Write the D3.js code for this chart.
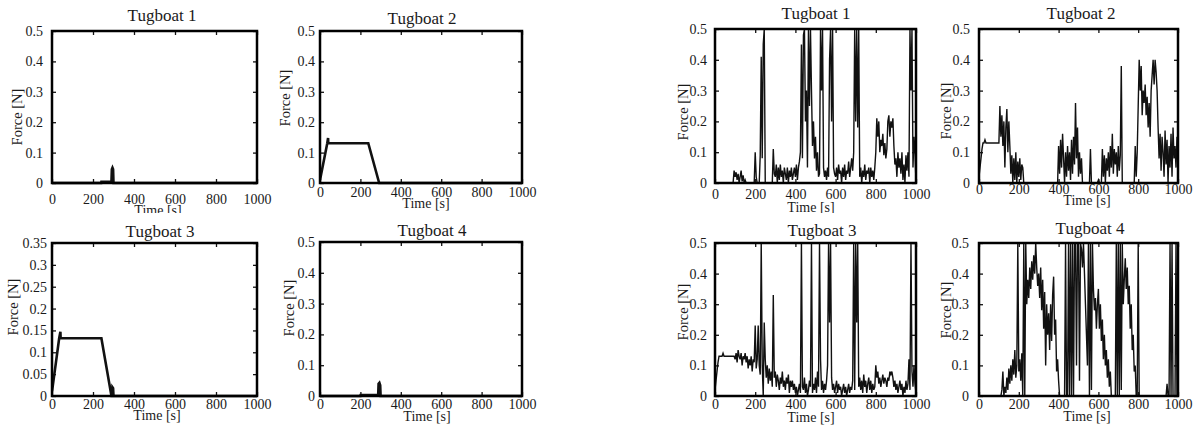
<!DOCTYPE html>
<html>
<head>
<meta charset="utf-8">
<script src="https://cdn.jsdelivr.net/npm/d3@7"></script>
<style>
	body { margin: 0; background: #fff; }
	svg { display: block; }
</style>
</head>
<body>
<svg id="chart" width="1200" height="434"></svg>
<script>
// ---- data ----
const titles = ['Tugboat 1', 'Tugboat 2', 'Tugboat 3', 'Tugboat 4']
const timeTicks = [0, 200, 400, 600, 800, 1000]
const forceTicks = [0, 0.1, 0.2, 0.3, 0.4, 0.5]
const forceTicksFine = [0, 0.05, 0.1, 0.15, 0.2, 0.25, 0.3, 0.35]

// left group: [time s, force N]
const leftTug1 = [[0,0],[240,0],[241,0.004],[290,0.004],[292,0.045],[295,0.05],[298,0.045],[300,0],[1000,0]]
const leftTug2 = [[0,0.01],[36,0.131],[40,0.148],[41,0.131],[239,0.131],[293,0],[1000,0]]
const leftTug3 = [[0,0.01],[35,0.132],[41,0.147],[42,0.132],[241,0.132],[290,0],[294,0],[295,0.02],[298,0.018],[300,0],[1000,0]]
const leftTug4 = [[0,0],[200,0],[201,0.003],[288,0.003],[290,0.04],[294,0.043],[298,0.035],[300,0],[1000,0]]

// right group: force sampled every 5 s, 0..1000 s
const timeGrid = d3.range(0, 1001, 5)
const rightTug1 = [
	0,0,0,0,0,0,0,0,0,0,0,0,0,0,0,0,0,0,0,0.04,
	0.02,0.035,0.01,0.03,0,0.02,0.04,0.005,0.025,0,0.01,0,0,0,0,0,0,0,0,0,
	0.1,0.02,0,0,0,0.09,0.41,0.08,0.45,0.5,0,0,0,0,0,0,0,0,0.11,0.03,
	0.02,0.06,0,0.05,0.01,0.06,0.02,0.04,0,0.05,0.03,0.01,0.05,0,0.04,0.02,0.05,0.01,0.03,0.05,
	0.02,0.06,0.01,0.05,0.07,0.1,0.45,0.08,0.48,0.5,0.2,0.3,0.05,0.5,0.25,0.5,0.3,0.12,0.2,0.08,
	0.15,0.04,0.1,0.02,0.03,0.5,0.3,0.5,0.05,0.02,0.04,0.01,0.05,0.02,0.4,0.5,0.2,0.5,0.05,0.03,
	0.02,0.05,0.01,0.06,0.03,0.04,0,0.05,0.02,0.06,0.01,0.04,0.03,0.07,0.02,0.05,0.08,0.04,0.1,0.5,
	0.2,0.5,0.18,0.5,0.02,0.05,0,0.04,0.02,0.06,0.01,0.04,0.03,0.05,0,0.05,0.02,0.04,0.01,0.05,
	0.1,0.21,0.15,0.2,0.1,0.14,0.12,0.16,0.09,0.13,0.08,0.11,0.2,0.22,0.15,0.2,0.18,0.21,0.12,0.06,
	0.08,0.02,0.1,0.05,0.08,0.03,0.1,0.01,0.06,0,0.09,0.04,0.1,0.02,0.5,0.3,0.5,0.05,0.15,0.1,
	0
]
const rightTug2 = [
	0.02,0.05,0.08,0.11,0.13,0.13,0.14,0.13,0.13,0.13,0.13,0.13,0.13,0.13,0.13,0.13,0.13,0.13,0.13,0.13,
	0.13,0.25,0.15,0.22,0.12,0.2,0.05,0.18,0.24,0.1,0.2,0.12,0.03,0.09,0,0.08,0.01,0.1,0,0.07,
	0.02,0.08,0.01,0.06,0.05,0,0,0,0,0,0,0,0,0,0,0,0,0,0,0,
	0,0,0,0,0,0,0,0,0,0,0,0,0,0,0,0,0,0,0,0,
	0.12,0.03,0.14,0.05,0.16,0.08,0,0.1,0.02,0.12,0.04,0.1,0.01,0.14,0.03,0.15,0.06,0.26,0.08,0.18,
	0.02,0.1,0.03,0.08,0,0,0,0,0,0,0,0,0.11,0,0,0,0,0,0,0,
	0.01,0,0,0,0.11,0.02,0.09,0,0.08,0.04,0.1,0.02,0.12,0.05,0.16,0.03,0.11,0.06,0.1,0.02,
	0.12,0.04,0.09,0.38,0,0,0,0,0,0,0,0,0,0,0,0,0,0.12,0.02,0.1,
	0.25,0.4,0.3,0.38,0.22,0.3,0.26,0.32,0.22,0.28,0.18,0.26,0.15,0.3,0.35,0.4,0.32,0.4,0.36,0.3,
	0.18,0.08,0.16,0.04,0.15,0.1,0.02,0.17,0.06,0.14,0,0.12,0.05,0.16,0.02,0.18,0.08,0.12,0.05,0.15,
	0.1
]
const rightTug3 = [
	0.02,0.05,0.08,0.11,0.13,0.13,0.13,0.13,0.14,0.13,0.13,0.13,0.13,0.13,0.13,0.13,0.13,0.13,0.13,0.13,
	0.12,0.14,0.11,0.15,0.13,0.12,0.14,0.1,0.13,0.12,0.14,0.11,0.13,0.09,0.12,0.1,0.13,0.08,0.12,0.11,
	0.23,0.09,0.12,0.23,0.1,0.07,0.5,0.1,0,0.24,0.12,0.06,0.1,0.04,0.09,0.05,0.08,0.03,0.33,0.06,
	0.08,0.03,0.07,0.05,0.02,0.06,0.04,0.08,0.03,0.05,0.02,0.06,0.04,0.07,0.01,0.05,0.03,0.05,0.02,0.04,
	0.01,0.03,0,0.02,0.04,0.01,0.5,0.03,0.02,0.06,0.01,0.04,0,0.02,0.05,0.03,0.5,0.01,0.04,0.02,
	0.06,0.01,0.08,0.03,0.5,0.12,0.02,0.05,0.01,0.04,0.02,0.05,0.1,0.5,0.24,0.5,0.06,0.02,0.04,0.01,
	0.03,0.05,0.01,0.04,0.02,0.03,0,0.02,0.04,0.01,0.03,0,0.02,0.04,0.01,0.03,0.02,0.05,0.5,0.02,
	0.5,0.24,0.5,0.03,0.06,0.02,0.05,0.01,0.07,0.03,0.05,0.01,0.04,0.06,0.02,0.05,0.01,0.04,0.02,0.03,
	0.1,0.06,0.08,0.04,0.06,0.03,0.05,0.07,0.04,0.06,0.05,0.03,0.06,0.05,0.08,0.07,0.08,0.06,0.03,0.05,
	0.02,0.04,0.01,0.03,0.05,0.02,0.04,0,0.03,0.01,0.05,0.02,0.04,0.12,0.02,0.5,0.08,0.03,0.1,0.04,
	0.01
]
const rightTug4 = [
	0,0,0,0,0,0,0,0,0,0,0,0,0,0,0,0,0,0,0,0,
	0,0,0,0.02,0.08,0,0.03,0.01,0.06,0.02,0.09,0.04,0.1,0.05,0.12,0.07,0.15,0.06,0.1,0.5,
	0.08,0.12,0.05,0.14,0,0.5,0,0.5,0.3,0.38,0.32,0.42,0.35,0.44,0.38,0.46,0.4,0.5,0.42,0.36,
	0.4,0.32,0.42,0.28,0.38,0.22,0.34,0.1,0.3,0.2,0.27,0.15,0.3,0.18,0.33,0.39,0.2,0.25,0.08,0.12,
	0.05,0,0,0,0,0,0,0.5,0,0,0.5,0,0.5,0,0.5,0,0.5,0.5,0.1,0.5,
	0.5,0.05,0.5,0.48,0.42,0.5,0.4,0.3,0.2,0.1,0.5,0,0.5,0.02,0.5,0.35,0.28,0.32,0.22,0.3,
	0.35,0.22,0.3,0.18,0.25,0.12,0.2,0.1,0.15,0.06,0.12,0.03,0.08,0,0,0,0,0,0.5,0,
	0.5,0,0.5,0.02,0.5,0.3,0.38,0.45,0.35,0.42,0.3,0.36,0.22,0.3,0.15,0.2,0.08,0.1,0,0,
	0.5,0,0,0,0,0,0,0,0,0,0,0,0,0,0,0,0,0,0,0,
	0,0,0,0,0,0,0,0,0,0.04,0,0,0.5,0,0.5,0,0,0,0.5,0,
	0
]

const toPairs = vals => vals.map((v, i) => [timeGrid[i], v])

// ---- layout (one entry per subplot) ----
const panels = [
	{series: leftTug1, title: titles[0], yTicks: forceTicks, ymax: 0.5, x0: 52, x1: 257, y0: 31, y1: 183, tX: 162, tY: 21, tickBase: 204, labX: 158, labY: 215, yPad: 9, ylX: 17, ylY: 117, lw: 2.6, top: true},
	{series: leftTug2, title: titles[1], yTicks: forceTicks, ymax: 0.5, x0: 320, x1: 522, y0: 31, y1: 183, tX: 422, tY: 24, tickBase: 197, labX: 426, labY: 208, yPad: 5, ylX: 285, ylY: 98, lw: 2.6, top: true},
	{series: leftTug3, title: titles[2], yTicks: forceTicksFine, ymax: 0.35, x0: 52, x1: 257, y0: 243, y1: 396, tX: 160, tY: 237, tickBase: 409, labX: 157, labY: 420, yPad: 5, ylX: 13, ylY: 307, lw: 2.6},
	{series: leftTug4, title: titles[3], yTicks: forceTicks, ymax: 0.5, x0: 320, x1: 522, y0: 242, y1: 396, tX: 432, tY: 236, tickBase: 409, labX: 427, labY: 421, yPad: 5, ylX: 289, ylY: 308, lw: 2.6},
	{series: toPairs(rightTug1), title: titles[0], yTicks: forceTicks, ymax: 0.5, x0: 715, x1: 916, y0: 29, y1: 183, tX: 816, tY: 19, tickBase: 199, labX: 811, labY: 212, yPad: 8, ylX: 683, ylY: 112, lw: 1.4, top: true},
	{series: toPairs(rightTug2), title: titles[1], yTicks: forceTicks, ymax: 0.5, x0: 979, x1: 1178, y0: 29, y1: 183, tX: 1081, tY: 19, tickBase: 194, labX: 1087, labY: 205, yPad: 9, ylX: 946, ylY: 111, lw: 1.4, top: true},
	{series: toPairs(rightTug3), title: titles[2], yTicks: forceTicks, ymax: 0.5, x0: 715, x1: 916, y0: 243, y1: 396, tX: 822, tY: 236, tickBase: 409, labX: 811, labY: 422, yPad: 8, ylX: 683, ylY: 312, lw: 1.4},
	{series: toPairs(rightTug4), title: titles[3], yTicks: forceTicks, ymax: 0.5, x0: 979, x1: 1178, y0: 243, y1: 396, tX: 1090, tY: 234, tickBase: 409, labX: 1087, labY: 421, yPad: 10, ylX: 946, ylY: 310, lw: 1.4}
]

const serif = '"Liberation Serif", Tinos, "Times New Roman", Times, serif'
const ink = '#1a1a1a'

const svg = d3.select('#chart')
	.style('font-family', serif)
const defs = svg.append('defs')

defs.append('clipPath').attr('id', 'topRowClip')
	.append('rect').attr('x', 0).attr('y', 0).attr('width', 1200).attr('height', 213)

const fmt = d => d === 0 ? '0' : d3.format('~g')(d)

const cleanAxis = a => {
	a.attr('font-family', null).attr('font-size', null)
	a.select('.domain').remove()
	a.selectAll('text')
		.style('font-family', serif)
		.style('font-size', '14px')
		.attr('fill', ink)
}

panels.forEach((p, k) => {
	const xScale = d3.scaleLinear().domain([0, 1000]).range([p.x0, p.x1])
	const yScale = d3.scaleLinear().domain([0, p.ymax]).range([p.y1, p.y0])

	const g = svg.append('g')

	defs.append('clipPath').attr('id', 'plot' + k)
		.append('rect')
		.attr('x', p.x0).attr('y', p.y0 - 2)
		.attr('width', p.x1 - p.x0).attr('height', p.y1 - p.y0 + 4)

	// bottom axis with labels
	const xb = g.append('g')
		.attr('transform', `translate(0, ${p.y1})`)
		.call(d3.axisBottom(xScale).tickValues(timeTicks).tickSizeInner(-4).tickSizeOuter(0).tickFormat(d3.format('d')))
	cleanAxis(xb)
	xb.selectAll('text').attr('y', p.tickBase - p.y1).attr('dy', 0)

	// top axis, ticks only
	const xt = g.append('g')
		.attr('transform', `translate(0, ${p.y0})`)
		.call(d3.axisTop(xScale).tickValues(timeTicks).tickSizeInner(-4).tickSizeOuter(0).tickFormat(''))
	cleanAxis(xt)

	// left axis with labels
	const yl = g.append('g')
		.attr('transform', `translate(${p.x0}, 0)`)
		.call(d3.axisLeft(yScale).tickValues(p.yTicks).tickSizeInner(-4).tickSizeOuter(0).tickFormat(fmt))
	cleanAxis(yl)
	yl.selectAll('text').attr('x', -p.yPad)

	// right axis, ticks only
	const yr = g.append('g')
		.attr('transform', `translate(${p.x1}, 0)`)
		.call(d3.axisRight(yScale).tickValues(p.yTicks).tickSizeInner(-4).tickSizeOuter(0).tickFormat(''))
	cleanAxis(yr)

	g.selectAll('.tick line').attr('stroke', '#111').attr('stroke-width', 1.3)

	// data
	const line = d3.line()
		.x(d => xScale(d[0]))
		.y(d => yScale(d[1]))

	g.append('path')
		.datum(p.series)
		.attr('clip-path', `url(#plot${k})`)
		.attr('d', line)
		.attr('fill', 'none')
		.attr('stroke', '#111')
		.attr('stroke-width', p.lw)
		.attr('stroke-linejoin', 'miter')

	// frame
	g.append('rect')
		.attr('x', p.x0).attr('y', p.y0)
		.attr('width', p.x1 - p.x0).attr('height', p.y1 - p.y0)
		.attr('fill', 'none')
		.attr('stroke', '#000')
		.attr('stroke-width', 2.5)

	// title
	g.append('text')
		.attr('x', p.tX).attr('y', p.tY)
		.attr('text-anchor', 'middle')
		.style('font-family', serif)
		.style('font-size', '17px')
		.attr('fill', ink)
		.text(p.title)

	// x label
	const xl = g.append('text')
		.attr('x', p.labX).attr('y', p.labY)
		.attr('text-anchor', 'middle')
		.style('font-family', serif)
		.style('font-size', '14px')
		.attr('fill', ink)
		.text('Time [s]')
	if (p.top) xl.attr('clip-path', 'url(#topRowClip)')

	// y label
	g.append('text')
		.attr('transform', `translate(${p.ylX}, ${p.ylY}) rotate(-90)`)
		.attr('dy', '0.35em')
		.attr('text-anchor', 'middle')
		.style('font-family', serif)
		.style('font-size', '14.5px')
		.attr('fill', ink)
		.text('Force [N]')
})
</script>
</body>
</html>
